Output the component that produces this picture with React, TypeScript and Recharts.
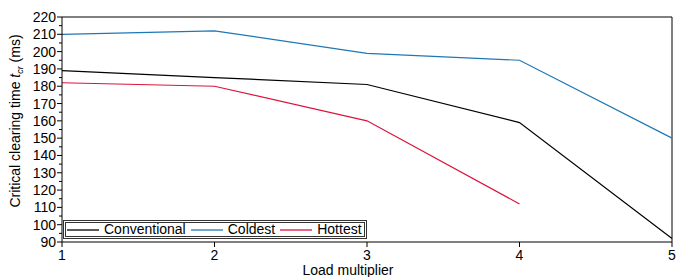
import React from 'react';
import { LineChart, Line, XAxis, YAxis, ReferenceLine } from 'recharts';

const loadMultiplier = [1, 2, 3, 4, 5];
const conventional = [189, 185, 181, 159, 92];
const coldest = [210, 212, 199, 195, 150];
const hottest = [182, 180, 160, 112, null];

const yTicks = [90, 95, 100, 105, 110, 115, 120, 125, 130, 135, 140, 145, 150, 155, 160, 165, 170, 175, 180, 185, 190, 195, 200, 205, 210, 215, 220];
const xTicks = [1, 2, 3, 4, 5];

const chartData = loadMultiplier.map((x, i) => ({
  x,
  conventional: conventional[i],
  coldest: coldest[i],
  hottest: hottest[i],
}));

const FONT = 'Liberation Sans, Arial, sans-serif';

const YTick = (props: any) => {
  const { x, y, payload } = props;
  const major = payload.value % 10 === 0;
  return (
    <g>
      <line x1={x} x2={x - (major ? 5 : 3)} y1={y} y2={y} stroke="#000" strokeWidth={1} />
      {major && (
        <text x={x - 6} y={y} dy={5} textAnchor="end" fontSize={14} fontFamily={FONT} fill="#000">
          {payload.value}
        </text>
      )}
    </g>
  );
};

const XTick = (props: any) => {
  const { x, y, payload } = props;
  return (
    <g>
      <line x1={x} x2={x} y1={y} y2={y + 5} stroke="#000" strokeWidth={1} />
      <text x={x} y={y + 18} textAnchor="middle" fontSize={14} fontFamily={FONT} fill="#000">
        {payload.value}
      </text>
    </g>
  );
};

const YLabel = (props: any) => {
  const { viewBox } = props;
  const cx = viewBox.x + 20;
  const cy = viewBox.y + 104;
  return (
    <text
      x={cx}
      y={cy}
      transform={`rotate(-90 ${cx} ${cy})`}
      textAnchor="middle"
      fontSize={14}
      fontFamily={FONT}
      fill="#000"
    >
      Critical clearing time <tspan fontStyle="italic">t</tspan>
      <tspan fontStyle="italic" fontSize={9} dy={3}>cr</tspan>
      <tspan dy={-3}> (ms)</tspan>
    </text>
  );
};

const XLabel = (props: any) => {
  const { viewBox } = props;
  return (
    <text
      x={viewBox.x + viewBox.width / 2 - 19}
      y={viewBox.y + 33}
      textAnchor="middle"
      fontSize={14}
      fontFamily={FONT}
      fill="#000"
    >
      Load multiplier
    </text>
  );
};

const legendItems = [
  { name: 'Conventional', color: '#000000' },
  { name: 'Coldest', color: '#1f77b4' },
  { name: 'Hottest', color: '#dc143c' },
];

const LegendBox = () => (
  <div
    style={{
      position: 'absolute',
      left: 63,
      top: 220,
      display: 'flex',
      alignItems: 'center',
      border: '3px double #333',
      background: '#fff',
      height: 13,
      padding: '0 2px 0 1px',
      fontFamily: FONT,
      fontSize: 14,
      lineHeight: '13px',
      color: '#000',
    }}
  >
    {legendItems.map((item, i) => (
      <div key={item.name} style={{ display: 'flex', alignItems: 'center', marginLeft: i === 0 ? 0 : 5 }}>
        <svg width={32} height={4} style={{ marginRight: 5, display: 'block' }}>
          <line x1={0} x2={32} y1={2} y2={2} stroke={item.color} strokeWidth={1.3} />
        </svg>
        <span>{item.name}</span>
      </div>
    ))}
  </div>
);

export default function App() {
  return (
    <div style={{ position: 'absolute', left: 0, top: 0, width: 678, height: 277, background: '#fff' }}>
      <LineChart width={678} height={277} data={chartData} margin={{ top: 17, right: 6, bottom: 0, left: 0 }}>
        <XAxis
          dataKey="x"
          type="number"
          domain={[1, 5]}
          ticks={xTicks}
          interval={0}
          height={35}
          axisLine={{ stroke: '#000', strokeWidth: 1 }}
          tickLine={false}
          tickSize={0}
          tickMargin={0}
          tick={<XTick />}
          label={{ content: <XLabel /> }}
        />
        <YAxis
          type="number"
          domain={[90, 220]}
          ticks={yTicks}
          interval={0}
          width={62}
          axisLine={{ stroke: '#000', strokeWidth: 1 }}
          tickLine={false}
          tickSize={0}
          tickMargin={0}
          tick={<YTick />}
          label={{ content: <YLabel /> }}
        />
        <ReferenceLine y={220} stroke="#000" strokeWidth={1} />
        <ReferenceLine x={5} stroke="#000" strokeWidth={1} />
        <Line type="linear" dataKey="conventional" stroke="#000000" strokeWidth={1.2} dot={false} isAnimationActive={false} />
        <Line type="linear" dataKey="coldest" stroke="#1f77b4" strokeWidth={1.2} dot={false} isAnimationActive={false} />
        <Line type="linear" dataKey="hottest" stroke="#dc143c" strokeWidth={1.2} dot={false} isAnimationActive={false} />
      </LineChart>
      <LegendBox />
    </div>
  );
}
